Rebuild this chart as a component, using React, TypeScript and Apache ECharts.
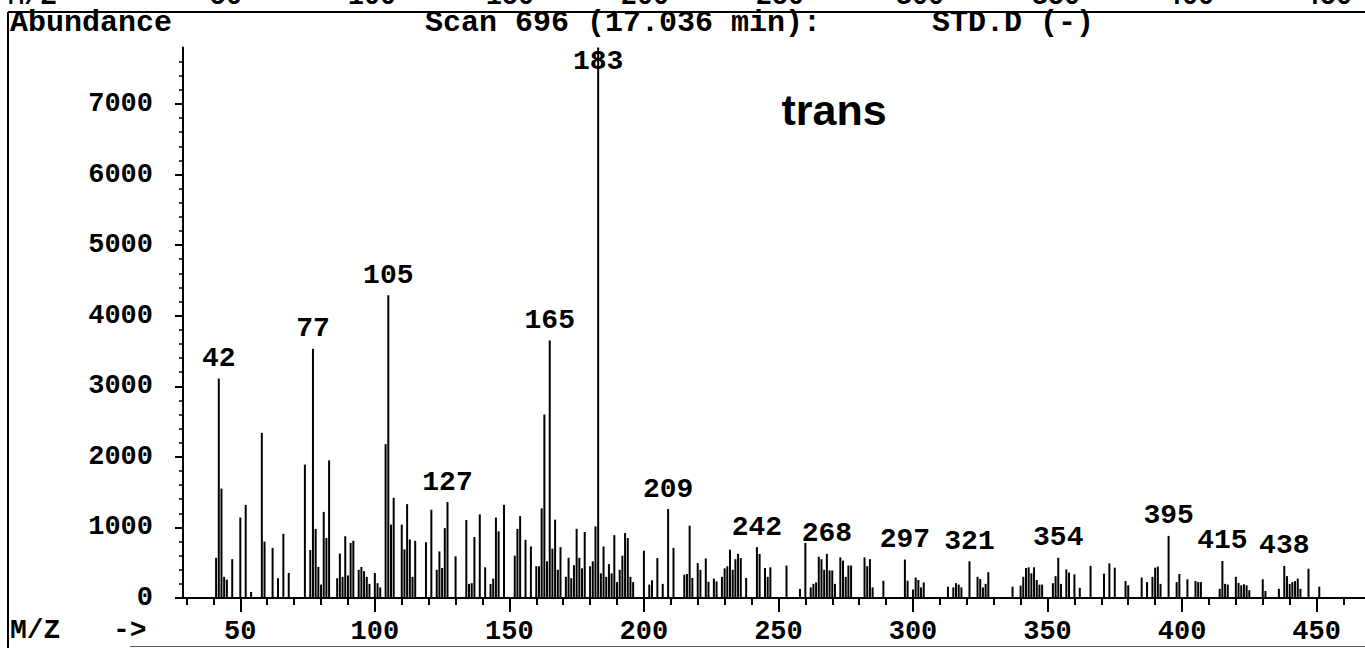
import React, { useEffect, useRef } from "react";
import * as echarts from "echarts";

const mz = [
  41, 42, 43, 44, 45, 47, 50, 52, 54, 58, 59, 62, 64, 66, 68, 74, 76, 77, 78, 79,
  80, 81, 82, 83, 86, 87, 88, 89, 90, 91, 92, 94, 95, 96, 97, 98, 100, 101, 102, 104,
  105, 106, 107, 110, 111, 112, 113, 114, 115, 119, 121, 123, 124, 125, 126, 127, 130, 134, 135, 136,
  137, 139, 141, 143, 144, 145, 146, 148, 152, 153, 154, 156, 158, 160, 161, 162, 163, 164, 165, 166,
  167, 168, 169, 171, 172, 173, 174, 175, 176, 177, 178, 180, 181, 182, 183, 184, 185, 186, 187, 188,
  189, 190, 191, 192, 193, 194, 195, 196, 200, 202, 203, 205, 207, 209, 211, 215, 216, 217, 218, 220,
  221, 223, 224, 226, 227, 229, 230, 231, 232, 233, 234, 235, 236, 238, 242, 243, 245, 246, 247, 253,
  258, 260, 262, 263, 264, 265, 266, 267, 268, 269, 270, 271, 273, 274, 275, 276, 277, 282, 283, 284,
  285, 289, 297, 298, 300, 301, 302, 303, 304, 313, 315, 316, 317, 318, 321, 324, 325, 326, 327, 328,
  337, 340, 341, 342, 343, 344, 345, 346, 347, 348, 352, 353, 354, 355, 357, 358, 360, 362, 366, 371,
  373, 375, 379, 380, 385, 387, 389, 390, 391, 392, 395, 398, 399, 402, 405, 406, 407, 414, 415, 416,
  417, 420, 421, 422, 423, 424, 425, 430, 431, 436, 438, 439, 440, 441, 442, 443, 444, 447, 451,
];

const abundance = [
  570, 3110, 1550, 300, 260, 550, 1140, 1320, 85, 2340, 800, 710, 280, 910, 355, 1890, 680, 3530, 980, 440,
  190, 1220, 850, 1950, 280, 630, 300, 875, 320, 780, 810, 400, 440, 380, 300, 200, 355, 210, 150, 2180,
  4290, 1040, 1420, 1040, 690, 1330, 830, 300, 810, 790, 1250, 400, 660, 425, 990, 1360, 590, 1105, 200, 210,
  865, 1185, 435, 200, 275, 1140, 945, 1320, 600, 980, 1160, 825, 730, 450, 450, 1270, 2600, 520, 3650, 700,
  1110, 400, 720, 300, 570, 280, 465, 980, 570, 420, 935, 450, 520, 1015, 7800, 350, 730, 300, 480, 350,
  890, 225, 400, 600, 920, 850, 300, 225, 670, 190, 250, 565, 200, 1260, 710, 330, 340, 1025, 285, 495,
  400, 560, 230, 275, 235, 300, 420, 450, 685, 400, 550, 625, 565, 285, 720, 625, 425, 300, 435, 460,
  130, 780, 150, 200, 220, 585, 550, 400, 625, 390, 390, 200, 575, 530, 300, 460, 460, 575, 450, 550,
  150, 245, 545, 245, 120, 290, 255, 150, 220, 160, 150, 210, 190, 150, 520, 300, 270, 150, 200, 365,
  160, 175, 300, 425, 435, 350, 435, 255, 190, 190, 210, 310, 570, 200, 405, 360, 335, 145, 455, 345,
  490, 430, 240, 180, 290, 225, 300, 430, 445, 200, 880, 225, 340, 265, 240, 225, 225, 130, 525, 200,
  190, 300, 215, 180, 195, 180, 110, 265, 100, 130, 455, 310, 200, 225, 240, 275, 130, 415, 160,
];

const labeledPeaks = [42, 77, 105, 127, 165, 183, 209, 242, 268, 297, 321, 354, 395, 415, 438];

const xMajorTicks = [50, 100, 150, 200, 250, 300, 350, 400, 450];
const xMinorTicks = [30, 40, 60, 70, 80, 90, 110, 120, 130, 140, 160, 170, 180, 190, 210, 220, 230, 240, 260, 270, 280, 290, 310, 320, 330, 340, 360, 370, 380, 390, 410, 420, 430, 440, 460];
const yMajorTicks = [0, 1000, 2000, 3000, 4000, 5000, 6000, 7000];
const yMinorTicks = [
  200, 400, 600, 800, 1200, 1400, 1600, 1800, 2200, 2400, 2600, 2800, 3200, 3400, 3600, 3800,
  4200, 4400, 4600, 4800, 5200, 5400, 5600, 5800, 6200, 6400, 6600, 6800, 7200, 7400, 7600,
];

const topRowLabels = ["50", "100", "150", "200", "250", "300", "350", "400", "450"];
const topRowCenters = [226, 372, 510, 645, 780, 920, 1056, 1190, 1328];

const MONO = "Liberation Mono";

export default function App() {
  const ref = useRef<HTMLDivElement>(null);
  useEffect(() => {
    const chart = echarts.init(ref.current!, null, { renderer: "svg" });
    const data = mz.map((m, i) => {
      const item: any = { value: [m, abundance[i]] };
      if (labeledPeaks.includes(m)) {
        item.label = {
          show: true,
          position: m === 183 ? "insideTop" : "top",
          distance: m === 183 ? 0 : 6,
          formatter: String(m),
          fontFamily: MONO,
          fontWeight: "bold",
          fontSize: 28,
          color: "#000",
        };
      }
      return item;
    });
    const xMin = 28.7;
    const xMax = 468;
    const yMax = 7800;
    const tickStyle = { color: "#000", width: 2 };
    const graphic: any[] = [
      { type: "line", shape: { x1: 8, y1: 12, x2: 1365, y2: 12 }, style: { stroke: "#000", lineWidth: 2 } },
      { type: "line", shape: { x1: 8, y1: 12, x2: 8, y2: 648 }, style: { stroke: "#000", lineWidth: 2 } },
      { type: "line", shape: { x1: 130, y1: 646.5, x2: 1365, y2: 646.5 }, style: { stroke: "#555", lineWidth: 1 } },
      { type: "text", left: 10, top: 8, style: { text: "Abundance", font: `bold 30px "${MONO}"`, fill: "#000" } },
      { type: "text", left: 425, top: 8, style: { text: "Scan 696 (17.036 min):", font: `bold 30px "${MONO}"`, fill: "#000" } },
      { type: "text", left: 932, top: 8, style: { text: "STD.D (-)", font: `bold 30px "${MONO}"`, fill: "#000" } },
      { type: "text", x: 834, y: 110, style: { text: "trans", font: `bold 43px "Liberation Sans"`, fill: "#000", align: "center", verticalAlign: "middle" } },
      { type: "text", x: 10, y: 630, style: { text: "M/Z", font: `bold 28px "${MONO}"`, fill: "#000", verticalAlign: "middle" } },
      { type: "text", x: 113, y: 630, style: { text: "->", font: `bold 28px "${MONO}"`, fill: "#000", verticalAlign: "middle" } },
      { type: "text", x: 8, y: -17, style: { text: "M/Z", font: `bold 27px "${MONO}"`, fill: "#000", verticalAlign: "top" } },
    ];
    topRowLabels.forEach((t, i) => {
      graphic.push({
        type: "text",
        x: topRowCenters[i],
        y: -17,
        style: { text: t, font: `bold 27px "${MONO}"`, fill: "#000", align: "center", verticalAlign: "top" },
      });
    });

    chart.setOption({
      animation: false,
      backgroundColor: "#fff",
      grid: { left: 183, right: 0, top: 47.5, bottom: 50 },
      xAxis: [
        {
          type: "value",
          min: xMin,
          max: xMax,
          position: "bottom",
          axisLine: { show: true, onZero: false, lineStyle: { color: "#000", width: 2 } },
          axisTick: { show: true, customValues: xMajorTicks, length: 14, lineStyle: tickStyle },
          axisLabel: {
            customValues: xMajorTicks,
            fontFamily: MONO,
            fontWeight: "bold",
            fontSize: 27,
            color: "#000",
            margin: 20,
            formatter: (v: number) => String(v),
          },
          splitLine: { show: false },
        },
        {
          type: "value",
          min: xMin,
          max: xMax,
          position: "bottom",
          offset: 0,
          axisLine: { show: false, onZero: false },
          axisTick: { show: true, customValues: xMinorTicks, length: 7, lineStyle: tickStyle },
          axisLabel: { show: false },
          splitLine: { show: false },
        },
      ],
      yAxis: [
        {
          type: "value",
          min: 0,
          max: yMax,
          position: "left",
          axisLine: { show: true, onZero: false, lineStyle: { color: "#000", width: 2 } },
          axisTick: { show: true, customValues: yMajorTicks, length: 8, lineStyle: tickStyle },
          axisLabel: {
            customValues: yMajorTicks,
            fontFamily: MONO,
            fontWeight: "bold",
            fontSize: 27,
            color: "#000",
            margin: 30,
            formatter: (v: number) => String(v),
          },
          splitLine: { show: false },
        },
        {
          type: "value",
          min: 0,
          max: yMax,
          position: "left",
          offset: 0,
          axisLine: { show: false, onZero: false },
          axisTick: { show: true, customValues: yMinorTicks, length: 4, lineStyle: { color: "#000", width: 1.5 } },
          axisLabel: { show: false },
          splitLine: { show: false },
        },
      ],
      series: [
        {
          type: "bar",
          xAxisIndex: 0,
          yAxisIndex: 0,
          barWidth: 2,
          itemStyle: { color: "#000" },
          data,
        },
      ],
      graphic,
    });
    return () => chart.dispose();
  }, []);
  return (
    <div
      ref={ref}
      style={{ position: "fixed", left: 0, top: 0, width: 1365, height: 648, background: "#fff" }}
    />
  );
}
